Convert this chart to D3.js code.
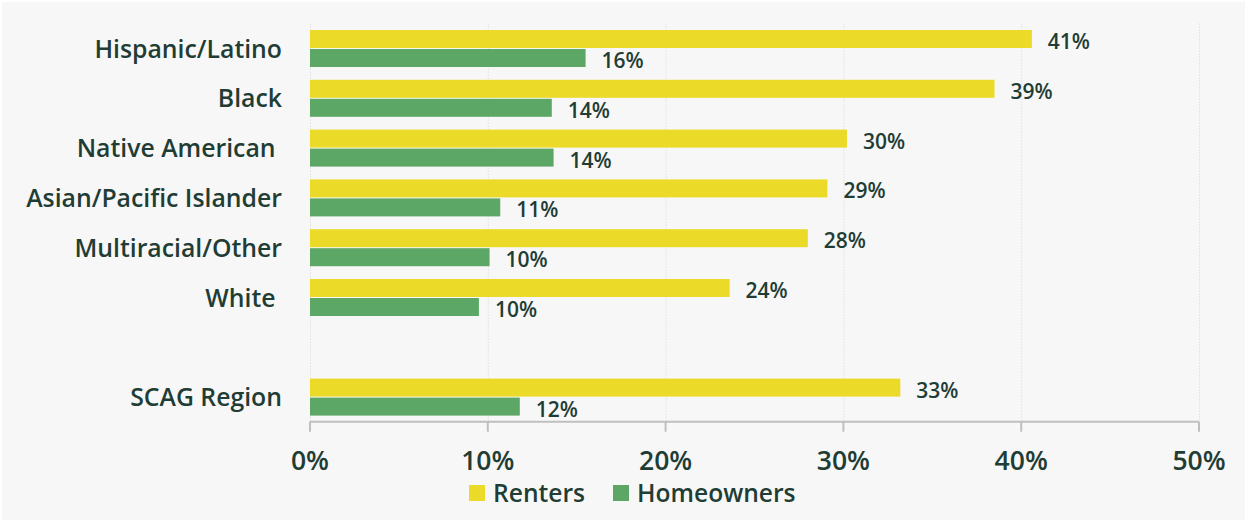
<!DOCTYPE html>
<html>
<head>
<meta charset="utf-8">
<script src="https://cdn.jsdelivr.net/npm/d3@7"></script>
<style>
  html, body { margin: 0; padding: 0; background: #ffffff; }
  svg text { font-family: "Open Sans", "Noto Sans", sans-serif; font-weight: 600; fill: #1f3d35; }
</style>
</head>
<body>
<svg id="chart" width="1247" height="522"></svg>
<script>
// categories top to bottom ("" is the empty gap row)
var categories = ["Hispanic/Latino", "Black", "Native American ", "Asian/Pacific Islander", "Multiracial/Other", "White ", "", "SCAG Region"];
var renters    = [40.6, 38.5, 30.2, 29.1, 28.0, 23.6, null, 33.2];
var homeowners = [15.5, 13.6, 13.7, 10.7, 10.1, 9.5, null, 11.8];
var seriesNames = ["Renters", "Homeowners"];
var tickValues = [0, 10, 20, 30, 40, 50];

var colors = {Renters: "#ebdb28", Homeowners: "#5da766"};

var svg = d3.select("#chart");
var margin = {top: 23.6, left: 310, right: 48, bottom: 100};
var width = 1199 - margin.left;

svg.append("rect")
    .attr("x", 2).attr("y", 2)
    .attr("width", 1243).attr("height", 518)
    .attr("fill", "#f7f7f7");

var x = d3.scaleLinear()
    .domain([0, 50])
    .range([margin.left, margin.left + width]);

var y = d3.scaleBand()
    .domain(categories.map(function(d, i) { return i; }))
    .range([margin.top, margin.top + 8 * 49.8]);

var barH = 18;

// gridlines
svg.append("g")
  .selectAll("line")
  .data(tickValues)
  .join("line")
    .attr("x1", function(d) { return x(d) + 0.5; })
    .attr("x2", function(d) { return x(d) + 0.5; })
    .attr("y1", margin.top)
    .attr("y2", y.range()[1])
    .attr("stroke", "#d4d4d4")
    .attr("stroke-width", 1)
    .attr("stroke-dasharray", "1,2");

var rows = categories.map(function(c, i) {
  return {i: i, name: c, r: renters[i], h: homeowners[i]};
});

var bars = svg.append("g");
rows.forEach(function(d) {
  if (d.r == null) return;
  var cy = y(d.i) + y.bandwidth() / 2;
  [[d.r, "Renters", cy - barH - 0.5], [d.h, "Homeowners", cy + 0.5]].forEach(function(s) {
    bars.append("rect")
        .attr("x", x(0))
        .attr("y", s[2])
        .attr("width", x(s[0]) - x(0))
        .attr("height", barH)
        .attr("fill", colors[s[1]]);
    bars.append("text")
        .attr("x", x(s[0]) + 16)
        .attr("y", s[2] + barH + 1)
        .style("font-size", "21px")
        .text(Math.round(s[0]) + "%");
  });
});

// category labels
svg.append("g")
  .selectAll("text")
  .data(rows.filter(function(d) { return d.name !== ""; }))
  .join("text")
    .attr("x", 282)
    .attr("y", function(d) { return y(d.i) + y.bandwidth() / 2 + 9; })
    .attr("text-anchor", "end")
    .style("font-size", "24.8px")
    .style("white-space", "pre")
    .text(function(d) { return d.name; });

// x axis
var axisY = 421.7;
svg.append("line")
    .attr("x1", x(0)).attr("x2", x(50))
    .attr("y1", axisY).attr("y2", axisY)
    .attr("stroke", "#bfbfbf").attr("stroke-width", 2);

svg.append("g")
  .selectAll("line")
  .data(tickValues)
  .join("line")
    .attr("x1", function(d) { return x(d); })
    .attr("x2", function(d) { return x(d); })
    .attr("y1", axisY).attr("y2", axisY + 10)
    .attr("stroke", "#bfbfbf").attr("stroke-width", 2);

svg.append("g")
  .selectAll("text")
  .data(tickValues)
  .join("text")
    .attr("x", function(d) { return x(d); })
    .attr("y", 470)
    .attr("text-anchor", "middle")
    .style("font-size", "26.5px")
    .text(function(d) { return d + "%"; });

// legend
var legendX = [469, 613];
var legend = svg.append("g")
  .selectAll("g")
  .data(seriesNames)
  .join("g")
    .attr("transform", function(d, i) { return "translate(" + legendX[i] + ",485)"; });

legend.append("rect")
    .attr("width", 16).attr("height", 16)
    .attr("fill", function(d) { return colors[d]; });

legend.append("text")
    .attr("x", 24)
    .attr("y", 17)
    .style("font-size", "24.6px")
    .text(function(d) { return d; });
</script>
</body>
</html>
